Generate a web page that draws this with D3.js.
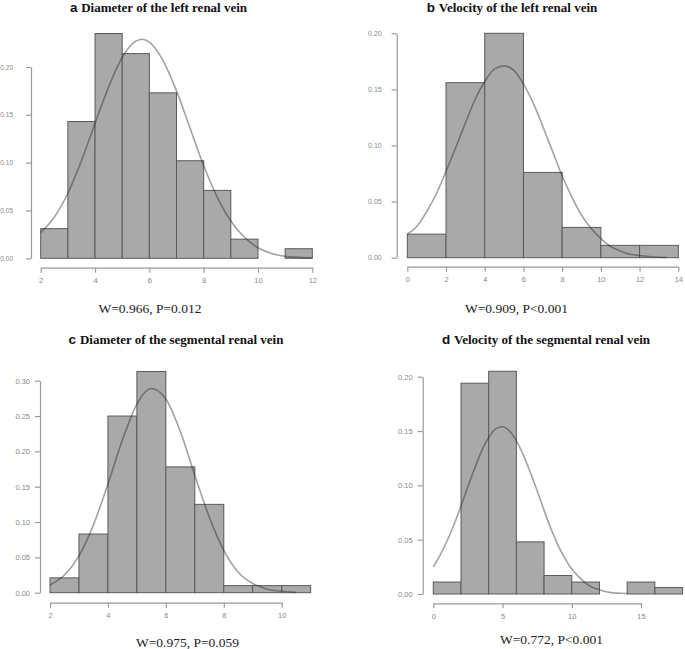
<!DOCTYPE html>
<html><head><meta charset="utf-8">
<script src="https://cdn.jsdelivr.net/npm/d3@7"></script>
<style>body{margin:0;background:#fff}svg{display:block}</style>
</head><body>
<script>
// ---- DATA ----
const titlesLetter = ["a", "b", "c", "d"];
const titlesText = ["Diameter of the left renal vein", "Velocity of the left renal vein",
  "Diameter of the segmental renal vein", "Velocity of the segmental renal vein"];
const statsText = ["W=0.966, P=0.012", "W=0.909, P<0.001", "W=0.975, P=0.059", "W=0.772, P<0.001"];

const binsA = [2,3,4,5,6,7,8,9,10,11,12];
const densA = [0.031,0.143,0.235,0.214,0.173,0.102,0.071,0.020,0,0.010];
const binsB = [0,2,4,6,8,10,12,14];
const densB = [0.021,0.156,0.200,0.076,0.027,0.011,0.011];
const binsC = [2,3,4,5,6,7,8,9,10,11];
const densC = [0.021,0.083,0.250,0.313,0.178,0.125,0.010,0.010,0.010];
const binsD = [0,2,4,6,8,10,12,14,16,18];
const densD = [0.011,0.194,0.205,0.048,0.017,0.011,0,0.011,0.006];

const curveAx = [2,2.5,3,3.5,4,4.5,5,5.5,5.75,6,6.5,7,7.5,8,8.5,9,9.5,10,10.5,11,11.5,12];
const curveAy = [0.027,0.043,0.068,0.102,0.141,0.179,0.210,0.227,0.229,0.226,0.207,0.175,0.136,0.097,0.064,0.039,0.022,0.011,0.005,0.002,0.001,0.0003];
const curveBx = [0,0.5,1,1.5,2,2.5,3,3.5,4,4.5,5,5.5,6,6.5,7,7.5,8,8.5,9,9.5,10,10.5,11,11.5,12,12.5,13,13.4];
const curveBy = [0.021,0.028,0.041,0.057,0.077,0.098,0.120,0.141,0.157,0.168,0.171,0.167,0.155,0.138,0.117,0.095,0.073,0.054,0.038,0.026,0.017,0.010,0.006,0.003,0.002,0.001,0.0004,0.0002];
const curveCx = [2,2.5,3,3.5,4,4.5,5,5.5,6,6.5,7,7.5,8,8.5,9,9.5,10,10.5];
const curveCy = [0.011,0.025,0.052,0.096,0.154,0.216,0.267,0.289,0.274,0.228,0.166,0.107,0.060,0.029,0.013,0.005,0.002,0.0005];
const curveDx = [0,0.5,1,1.5,2,2.5,3,3.5,4,4.5,5,5.5,6,6.5,7,7.5,8,8.5,9,9.5,10,10.5,11,11.5,12,12.5,13,13.5,14];
const curveDy = [0.025,0.036,0.049,0.064,0.081,0.099,0.116,0.132,0.144,0.152,0.154,0.150,0.141,0.128,0.112,0.095,0.077,0.060,0.045,0.033,0.023,0.016,0.010,0.006,0.004,0.002,0.001,0.0007,0.0004];

const xTicksA = [2,4,6,8,10,12];
const xTicksB = [0,2,4,6,8,10,12,14];
const xTicksC = [2,4,6,8,10];
const xTicksD = [0,5,10,15];
const yTicksA = [0,0.05,0.10,0.15,0.20];
const yTicksB = [0,0.05,0.10,0.15,0.20];
const yTicksC = [0,0.05,0.10,0.15,0.20,0.25,0.30];
const yTicksD = [0,0.05,0.10,0.15,0.20];

// ---- LAYOUT ----
const W = 685, H = 649;
const svg = d3.select("body").append("svg").attr("width", W).attr("height", H);

const panels = [
  {bins: binsA, dens: densA, cx: curveAx, cy: curveAy, xt: xTicksA, yt: yTicksA,
   xd:[2,12], xr:[40.7,312.3], yd:[0,0.20], yr:[258.3,67], yAxX:31, xAxY:267.7, ypad:13, yfs:6.5,
   tX:158.5, tY:11.5, sX:150, sY:313},
  {bins: binsB, dens: densB, cx: curveBx, cy: curveBy, xt: xTicksB, yt: yTicksB,
   xd:[0,14], xr:[407.3,678.3], yd:[0,0.20], yr:[257.7,33.3], yAxX:396.7, xAxY:266.7, ypad:10, yfs:7,
   tX:512, tY:11.5, sX:516.5, sY:313},
  {bins: binsC, dens: densC, cx: curveCx, cy: curveCy, xt: xTicksC, yt: yTicksC,
   xd:[2,10], xr:[50,281.7], yd:[0,0.30], yr:[592.7,380.7], yAxX:40, xAxY:602.7, ypad:5, yfs:7.5,
   tX:176, tY:343.5, sX:187.5, sY:647},
  {bins: binsD, dens: densD, cx: curveDx, cy: curveDy, xt: xTicksD, yt: yTicksD,
   xd:[0,15], xr:[433.3,641], yd:[0,0.20], yr:[594,376.7], yAxX:422.7, xAxY:603.3, ypad:5, yfs:7.5,
   tX:546, tY:344, sX:551.5, sY:644}
];

panels.forEach((p, i) => {
  const g = svg.append("g");
  const x = d3.scaleLinear().domain(p.xd).range(p.xr);
  const y = d3.scaleLinear().domain(p.yd).range(p.yr);

  // bars
  const bars = p.dens.map((d, k) => ({x0: p.bins[k], x1: p.bins[k+1], d}))
    .filter(b => b.d > 0);
  g.selectAll("rect.bar").data(bars).join("rect")
    .attr("class", "bar")
    .attr("x", b => x(b.x0)).attr("width", b => x(b.x1) - x(b.x0))
    .attr("y", b => y(b.d)).attr("height", b => y(0) - y(b.d))
    .attr("fill", "#a9a9a9").attr("stroke", "#5a5a5a").attr("stroke-width", 1);

  // curve
  const pts = p.cx.map((v, k) => [v, p.cy[k]]);
  g.append("path").datum(pts)
    .attr("d", d3.line().x(d => x(d[0])).y(d => y(d[1])).curve(d3.curveMonotoneX))
    .attr("fill", "none").attr("stroke", "#222").attr("stroke-opacity", 0.42)
    .attr("stroke-width", 1.6);

  // axes
  const yAx = g.append("g").attr("transform", `translate(${p.yAxX},0)`)
    .call(d3.axisLeft(y).tickValues(p.yt).tickFormat(d3.format(".2f")).tickSize(5).tickPadding(p.ypad).tickSizeOuter(0));
  const xAx = g.append("g").attr("transform", `translate(0,${p.xAxY})`)
    .call(d3.axisBottom(x).tickValues(p.xt).tickFormat(d3.format("d")).tickSize(5).tickPadding(5).tickSizeOuter(0));
  [yAx, xAx].forEach(a => {
    a.select(".domain").attr("stroke", "#9a9a9a").attr("stroke-width", 1.2);
    a.selectAll(".tick line").attr("stroke", "#9a9a9a").attr("stroke-width", 1.2);
    a.selectAll("text").attr("fill", "#888888").attr("font-family", "Liberation Sans, Arial, sans-serif");
  });
  yAx.selectAll("text").attr("font-size", p.yfs);
  xAx.selectAll("text").attr("font-size", 7.5);

  // title
  const t = g.append("text").attr("x", p.tX).attr("y", p.tY).attr("text-anchor", "middle")
    .attr("font-weight", "bold").attr("font-size", 13).attr("fill", "#111");
  t.append("tspan").attr("font-family", "Liberation Sans, Arial, sans-serif").attr("font-size", 13.5).text(titlesLetter[i] + " ");
  t.append("tspan").attr("font-family", "Liberation Serif, Times New Roman, serif").text(titlesText[i]);

  // stats
  g.append("text").attr("x", p.sX).attr("y", p.sY).attr("text-anchor", "middle")
    .attr("font-family", "Liberation Serif, Times New Roman, serif").attr("font-size", 13.5)
    .attr("fill", "#222").text(statsText[i]);
});
</script>
</body></html>
